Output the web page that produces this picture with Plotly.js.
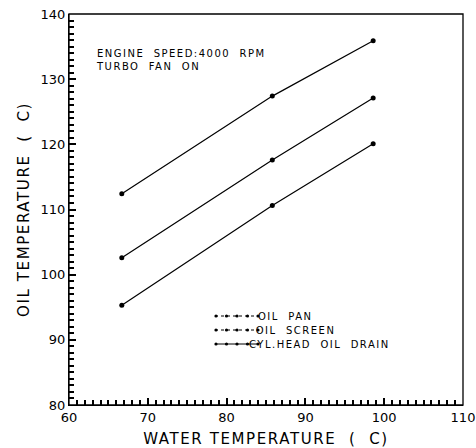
<!DOCTYPE html>
<html>
<head>
<meta charset="utf-8">
<script src="https://cdn.plot.ly/plotly-3.0.1.min.js"></script>
<style>
html,body{margin:0;padding:0;background:#fff;}
#chart{width:476px;height:448px;}
</style>
</head>
<body>
<div id="chart"></div>
<script>
var waterTemp = [66.7, 85.8, 98.6];
var oilPan = [112.4, 127.4, 135.9];
var oilScreen = [102.6, 117.6, 127.1];
var cylHeadDrain = [95.3, 110.6, 120.1];
var seriesNames = ["OIL&nbsp; PAN", "OIL&nbsp; SCREEN", "CYL.HEAD&nbsp; OIL&nbsp; DRAIN"];

var FONT = "DejaVu Sans, Liberation Sans, sans-serif";
var INK = "black";
function mk(y, name) {
  return {
    x: waterTemp, y: y, name: name, type: "scatter", mode: "lines+markers",
    line: {color: INK, width: 1.2},
    marker: {color: INK, size: 5, symbol: "circle"},
    showlegend: false
  };
}
var series = [oilPan, oilScreen, cylHeadDrain];
var data = series.map(function (s, i) { return mk(s, seriesNames[i]); });

var W = 394, H = 391, L = 69, B = 405;
function px(xp) { return (xp - L) / W; }
function py(yp) { return (B - yp) / H; }
var legendRows = [316, 330, 344];
var shapes = [{type: "rect", xref: "paper", yref: "paper", x0: 0, x1: 1, y0: 0, y1: 1,
               line: {color: INK, width: 1.3}}];
var annotations = [];
seriesNames.forEach(function (nm, i) {
  var yy = py(legendRows[i]);
  shapes.push({type: "line", xref: "paper", yref: "paper", x0: px(215), x1: px(258), y0: yy, y1: yy,
               line: {color: INK, width: 1, dash: i === 2 ? "solid" : "dot"}});
  for (var k = 0; k < 5; k++) {
    var cx = px(216 + k * 10.5);
    shapes.push({type: "circle", xref: "paper", yref: "paper",
                 x0: cx - 1.6 / W, x1: cx + 1.6 / W, y0: yy - 1.6 / H, y1: yy + 1.6 / H,
                 fillcolor: INK, line: {color: INK, width: 0}});
  }
  annotations.push({xref: "paper", yref: "paper", x: px(262), y: yy, xanchor: "left", yanchor: "middle",
                    text: nm, showarrow: false, font: {family: FONT, size: 10, color: INK}});
});
annotations.push({xref: "paper", yref: "paper", x: px(94), y: py(46), xanchor: "left", yanchor: "top",
                  text: "ENGINE&nbsp; SPEED:4000&nbsp; RPM<br>TURBO&nbsp; FAN&nbsp; ON", showarrow: false, align: "left",
                  font: {family: FONT, size: 10, color: INK}});

var layout = {
  width: 476, height: 448,
  margin: {l: 69, r: 13, t: 14, b: 43},
  font: {family: FONT, size: 13, color: INK},
  showlegend: false,
  xaxis: {
    range: [60, 110], dtick: 10, ticks: "inside", ticklen: 7, tickwidth: 1.5, tickcolor: INK,
    showline: true, linecolor: INK, showgrid: false,
    minor: {dtick: 1, ticks: "inside", ticklen: 5, tickwidth: 1.5, tickcolor: INK},
    title: {text: "WATER TEMPERATURE  (  C)", font: {family: FONT, size: 15, color: INK}}
  },
  yaxis: {
    range: [80, 140], dtick: 10, ticks: "inside", ticklen: 7, tickwidth: 1.5, tickcolor: INK,
    showline: true, linecolor: INK, showgrid: false,
    minor: {dtick: 1, ticks: "inside", ticklen: 5, tickwidth: 1.5, tickcolor: INK},
    title: {text: "OIL TEMPERATURE  (  C)", font: {family: FONT, size: 15, color: INK}}
  },
  shapes: shapes,
  annotations: annotations
};
Plotly.newPlot("chart", data, layout, {displayModeBar: false}).then(function () {
  var st = document.createElement("style");
  st.textContent = ".annotation-text{letter-spacing:1.5px}.xtitle,.ytitle{letter-spacing:1.6px}";
  document.head.appendChild(st);
});
</script>
</body>
</html>
